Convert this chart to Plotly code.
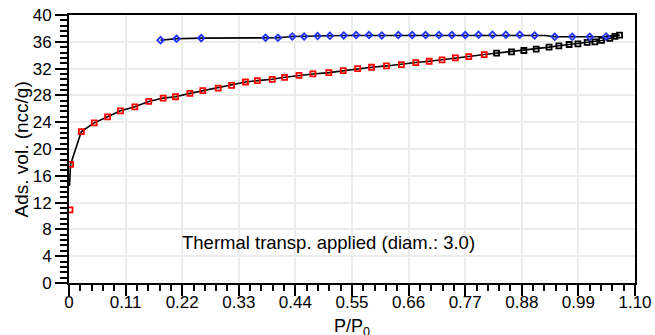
import plotly.graph_objects as go

# Adsorption branch (red part then black part)
ads_red_x = [0.003, 0.024, 0.049, 0.075, 0.100, 0.128, 0.155, 0.183, 0.207, 0.235, 0.260,
             0.290, 0.316, 0.343, 0.366, 0.395, 0.419, 0.447, 0.474, 0.505, 0.533, 0.561,
             0.588, 0.617, 0.646, 0.674, 0.700, 0.725, 0.751, 0.777, 0.807]
ads_red_y = [17.7, 22.6, 23.9, 24.8, 25.7, 26.3, 27.1, 27.6, 27.8, 28.3, 28.7,
             29.1, 29.5, 30.0, 30.2, 30.4, 30.7, 31.0, 31.2, 31.4, 31.7, 32.0,
             32.2, 32.4, 32.6, 32.9, 33.1, 33.3, 33.6, 33.8, 34.1]
ads_blk_x = [0.831, 0.860, 0.884, 0.908, 0.933, 0.952, 0.972, 0.989, 1.007, 1.022,
             1.035, 1.051, 1.061, 1.070]
ads_blk_y = [34.3, 34.5, 34.7, 34.9, 35.2, 35.4, 35.6, 35.7, 35.9, 36.0,
             36.2, 36.5, 36.8, 37.0]
# low-pressure start of the line and isolated first point
line_start_x = [0.001]
line_start_y = [14.5]
first_x = [0.002]
first_y = [10.9]

# Desorption branch
des_x = [1.070, 1.044, 1.012, 0.978, 0.944, 0.925, 0.905, 0.876, 0.849, 0.823, 0.796,
         0.770, 0.744, 0.719, 0.693, 0.667, 0.640, 0.608, 0.583, 0.558, 0.534, 0.507,
         0.483, 0.457, 0.434, 0.406, 0.382, 0.257, 0.209, 0.178]
des_y = [37.0, 36.8, 36.75, 36.75, 36.75, 36.95, 36.95, 37.05, 37.05, 37.05, 37.05,
         37.0, 37.0, 37.0, 37.0, 37.0, 37.0, 36.95, 37.0, 37.0, 36.95, 36.9,
         36.85, 36.8, 36.8, 36.6, 36.6, 36.55, 36.45, 36.25]
des_marker = [False, True, True, True, True, False, True, True, True, True, True,
              True, True, True, True, True, True, True, True, True, True, True,
              True, True, True, True, True, True, True, True]

x_tickvals = [0, 0.11, 0.22, 0.33, 0.44, 0.55, 0.66, 0.77, 0.88, 0.99, 1.10]
x_ticktext = ["0", "0.11", "0.22", "0.33", "0.44", "0.55", "0.66", "0.77", "0.88", "0.99", "1.10"]
y_tickvals = [0, 4, 8, 12, 16, 20, 24, 28, 32, 36, 40]

annot_text = "Thermal transp. applied (diam.: 3.0)"
x_title = "P/P<sub>0</sub>"
y_title = "Ads. vol. (ncc/g)"

FONT = "Liberation Sans, Arial, Helvetica, sans-serif"

fig = go.Figure()

# connecting line for adsorption
fig.add_trace(go.Scatter(x=line_start_x + ads_red_x + ads_blk_x,
                         y=line_start_y + ads_red_y + ads_blk_y,
                         mode="lines", line=dict(color="black", width=1.6),
                         hoverinfo="skip", showlegend=False))
# connecting line for desorption
fig.add_trace(go.Scatter(x=des_x, y=des_y, mode="lines",
                         line=dict(color="black", width=1.6),
                         hoverinfo="skip", showlegend=False))

fig.add_trace(go.Scatter(x=first_x + ads_red_x, y=first_y + ads_red_y, mode="markers",
                         marker=dict(symbol="square-open", size=5, color="#ff0000",
                                     line=dict(width=1.8)),
                         showlegend=False))
fig.add_trace(go.Scatter(x=ads_blk_x, y=ads_blk_y, mode="markers",
                         marker=dict(symbol="square-open", size=5, color="black",
                                     line=dict(width=1.8)),
                         showlegend=False))
fig.add_trace(go.Scatter(x=[x for x, m in zip(des_x, des_marker) if m],
                         y=[y for y, m in zip(des_y, des_marker) if m],
                         mode="markers",
                         marker=dict(symbol="diamond-open", size=5, color="#2233ff",
                                     line=dict(width=1.8)),
                         showlegend=False))

fig.add_annotation(x=0.505, y=6.0, text=annot_text, showarrow=False,
                   font=dict(family=FONT, size=18.5, color="black"))
# x-axis title (placed below tick labels, partly clipped like the reference)
fig.add_annotation(x=0.5, y=-0.165, xref="paper", yref="paper", text=x_title,
                   showarrow=False, xanchor="center", yanchor="middle",
                   font=dict(family=FONT, size=18, color="black"))
# y-axis title
fig.add_annotation(x=-0.084, y=0.5, xref="paper", yref="paper", text=y_title,
                   showarrow=False, xanchor="center", yanchor="middle", textangle=-90,
                   font=dict(family=FONT, size=19, color="black"))

fig.update_layout(
    width=655, height=335,
    margin=dict(l=69, r=20, t=15, b=52),
    plot_bgcolor="white", paper_bgcolor="white",
    font=dict(family=FONT, color="black"),
    showlegend=False,
)

fig.update_xaxes(
    range=[0, 1.10], tickvals=x_tickvals, ticktext=x_ticktext,
    tickfont=dict(size=17), ticks="outside", ticklen=11, tickwidth=2, tickcolor="black",
    ticklabelstandoff=-8, automargin=False,
    showline=True, linecolor="black", linewidth=2, mirror=True,
    showgrid=True, gridcolor="#ececec", gridwidth=1.5, zeroline=False,
    minor=dict(dtick=0.022, tick0=0, ticks="outside", ticklen=6, tickwidth=1.5,
               tickcolor="black", showgrid=False),
)
fig.update_yaxes(
    range=[0, 40], tickvals=y_tickvals, automargin=False,
    tickfont=dict(size=17), ticks="outside", ticklen=12, tickwidth=2, tickcolor="black",
    showline=True, linecolor="black", linewidth=2, mirror=True,
    showgrid=True, gridcolor="#ececec", gridwidth=1.5, zeroline=False,
    minor=dict(dtick=0.8, tick0=0, ticks="outside", ticklen=7, tickwidth=1.5,
               tickcolor="black", showgrid=False),
)

fig.write_html("out.html")
